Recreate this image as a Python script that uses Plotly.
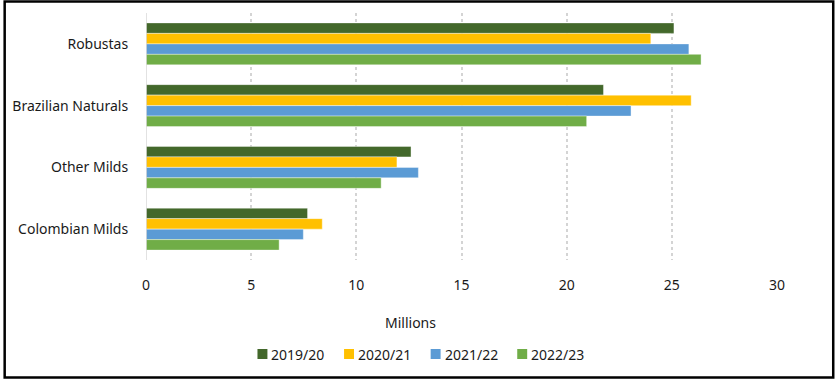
import plotly.graph_objects as go

categories = ["Robustas", "Brazilian Naturals", "Other Milds", "Colombian Milds"]
series_names = ["2019/20", "2020/21", "2021/22", "2022/23"]
v_2019_20 = [25.1, 21.75, 12.6, 7.68]
v_2020_21 = [24.0, 25.92, 11.93, 8.38]
v_2021_22 = [25.81, 23.06, 12.95, 7.48]
v_2022_23 = [26.39, 20.95, 11.18, 6.33]
x_ticks = [0, 5, 10, 15, 20, 25, 30]
colors = ["#43682B", "#FFC000", "#5B9BD5", "#70AD47"]

W, H = 835, 379
L, R, T, B = 143, 58, 13, 119
pw, ph = W - L - R, H - T - B


def px_x(p):
    return (p - L) / pw


def px_y(p):
    return (T + ph - p) / ph


fig = go.Figure()
for name, vals, c in zip(series_names, [v_2019_20, v_2020_21, v_2021_22, v_2022_23], colors):
    fig.add_trace(go.Bar(
        y=categories, x=vals, name=name, orientation="h",
        marker=dict(color=c, line=dict(color="rgba(255,255,255,0.5)", width=0.8)),
        showlegend=False,
    ))

font = dict(family="Noto Sans, PT Sans, sans-serif", size=14, color="#1a1a1a")
fig.update_layout(
    width=W, height=H,
    margin=dict(l=L, r=R, t=T, b=B, pad=0),
    paper_bgcolor="white", plot_bgcolor="white",
    barmode="group", bargap=0.32, bargroupgap=0,
    font=font,
    showlegend=False,
    xaxis=dict(range=[0, 30], tickvals=x_ticks, showgrid=True, gridcolor="#D4D4D4",
               griddash="dot", gridwidth=1.5, zeroline=False, showline=False,
               ticks="outside", ticklen=12, tickcolor="rgba(0,0,0,0)", tickfont=font,
               fixedrange=True),
    yaxis=dict(autorange="reversed", showgrid=False, zeroline=False,
               showline=False, ticks="outside", ticklen=14,
               tickcolor="rgba(0,0,0,0)", tickfont=font),
)
# y axis line at x=0
fig.add_shape(type="line", xref="x", yref="paper", x0=0, x1=0, y0=0, y1=1,
              line=dict(color="#D9D9D9", width=1.5))
# axis title
fig.add_annotation(text="Millions", xref="paper", yref="paper",
                   x=px_x(409), y=px_y(322), xanchor="center", yanchor="middle",
                   showarrow=False, font=font)
# custom legend
leg_x0, leg_step, leg_y = 255, 87, 354
for i, (name, c) in enumerate(zip(series_names, colors)):
    sx = leg_x0 + i * leg_step
    fig.add_shape(type="rect", xref="paper", yref="paper",
                  x0=px_x(sx), x1=px_x(sx + 10), y0=px_y(leg_y + 5), y1=px_y(leg_y - 5),
                  line=dict(width=0), fillcolor=c)
    fig.add_annotation(text=name, xref="paper", yref="paper",
                       x=px_x(sx + 12), y=px_y(leg_y), xanchor="left", yanchor="middle",
                       showarrow=False, font=font)
# outer border
fig.add_shape(type="rect", xref="paper", yref="paper",
              x0=px_x(1), x1=px_x(W - 1.5),
              y0=px_y(H - 1.5), y1=px_y(1.5),
              line=dict(color="black", width=2.5), fillcolor="rgba(0,0,0,0)", layer="above")

fig.write_html("out.html", config={"displayModeBar": False},
               post_script="document.body.style.margin='0px';")
